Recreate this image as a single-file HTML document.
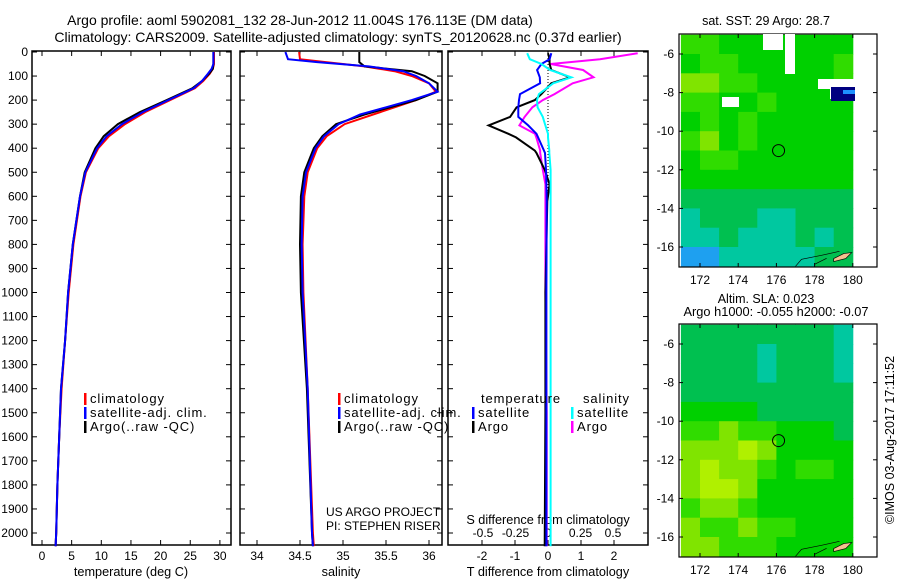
<!DOCTYPE html>
<html><head><meta charset="utf-8"><style>
body{margin:0;background:#fff;width:900px;height:580px;overflow:hidden}
svg text{font-family:"Liberation Sans",sans-serif;font-size:12px;fill:#000}
svg text.lg{font-size:13px;letter-spacing:0.9px}
svg text.tt{font-size:14px}
</style></head><body>
<svg id="s" width="900" height="580">
<text class="tt" x="300" y="25" text-anchor="middle">Argo profile: aoml 5902081_132 28-Jun-2012 11.004S 176.113E (DM data)</text>
<text class="tt" x="338" y="42" text-anchor="middle">Climatology: CARS2009. Satellite-adjusted climatology: synTS_20120628.nc (0.37d earlier)</text>
<text x="766" y="25" text-anchor="middle" style="font-size:12.5px">sat. SST: 29 Argo: 28.7</text>
<text x="766" y="303" text-anchor="middle" style="font-size:12.5px">Altim. SLA: 0.023</text>
<text x="776" y="316" text-anchor="middle" style="font-size:12.8px">Argo h1000: -0.055 h2000: -0.07</text>
<text transform="translate(894,440) rotate(-90)" text-anchor="middle" style="font-size:12.5px">©IMOS 03-Aug-2017 17:11:52</text>
<g id="g"></g>
</svg>
<script>
// ---- data ----
const depthTicks=[0,100,200,300,400,500,600,700,800,900,1000,1100,1200,1300,1400,1500,1600,1700,1800,1900,2000];
const tempTicks=[0,5,10,15,20,25,30];
const salTicks=[34,34.5,35,35.5,36];
const tdiffTicks=[-2,-1,0,1,2];
const sdiffTicks=[-0.5,-0.25,0,0.25,0.5];
const tempDepth=[0,50,70,90,120,150,200,250,300,350,400,500,600,800,1000,1200,1400,1600,1800,2000,2055];
const tempArgo=[28.9,28.9,28.8,28.2,27,25.4,21,16.5,12.8,10.4,9,7.2,6.4,5.2,4.4,3.9,3.2,2.9,2.6,2.4,2.3];
const tempSat=[28.9,28.9,28.6,28.0,27.0,25.6,21.3,17.0,13.5,10.9,9.3,7.3,6.4,5.2,4.4,3.9,3.2,2.9,2.6,2.4,2.3];
const tempClim=[29.0,29.0,28.8,28.3,27.2,25.8,21.6,17.4,14.0,11.3,9.5,7.4,6.5,5.3,4.5,3.9,3.3,2.9,2.6,2.4,2.3];
const salDepth=[0,30,42,60,80,100,130,165,200,230,260,300,350,400,500,600,800,1000,1400,2000,2055];
const salArgo=[35.19,35.19,35.19,35.25,35.8,35.95,36.1,36.1,35.85,35.55,35.25,34.92,34.76,34.66,34.55,34.51,34.5,34.51,34.58,34.64,34.65];
const salSat=[34.33,34.36,34.7,35.3,35.7,35.85,36.0,36.1,35.8,35.5,35.2,34.95,34.78,34.68,34.57,34.53,34.52,34.53,34.59,34.64,34.65];
const salClim=[34.49,34.5,34.8,35.25,35.6,35.8,36.0,36.08,35.85,35.6,35.35,35.02,34.81,34.7,34.59,34.55,34.53,34.54,34.59,34.65,34.66];
const dDepth=[5,30,50,75,105,130,175,200,230,270,305,340,355,410,420,490,550,620,1000,1500,2055];
const dTsat=[0.1,0.05,-0.2,-0.33,-0.25,-0.24,-0.85,-0.88,-0.9,-0.9,-0.6,-0.35,-0.3,-0.12,-0.09,-0.06,-0.05,-0.04,-0.05,-0.05,-0.05];
const dTargo=[0,0.05,0.05,0.1,0.67,0.1,-0.2,-0.4,-0.95,-1.15,-1.8,-1.2,-0.97,-0.4,-0.35,-0.1,0.05,-0.02,-0.08,-0.08,-0.1];
const dSsat=[-0.16,-0.14,-0.05,0.015,0.18,0.04,-0.07,-0.085,-0.08,-0.04,-0.02,0.0,0.0,0.01,0.01,0.02,0.02,0.02,0.02,0.02,0.02];
const dSargo=[0.69,0.4,0.02,0.27,0.35,0.19,0.05,-0.04,-0.12,-0.18,-0.22,-0.1,-0.09,-0.06,-0.06,-0.04,-0.02,-0.02,-0.02,-0.01,-0.01];
const mapLonTicks=[172,174,176,178,180];
const mapLatTicks=[-6,-8,-10,-12,-14,-16];
const sstGrid=[
[4,4,3,3,3,3,3,3,3],[3,4,4,3,3,3,3,3,4],[5,5,4,4,3,3,3,3,4],[4,4,3,3,4,3,3,3,3],
[3,4,3,4,3,3,3,3,3],[4,5,3,4,3,3,3,3,3],[3,4,4,3,3,3,3,3,3],[3,3,3,3,3,3,3,3,3],
[2,2,2,2,2,2,2,2,2],[1,2,2,2,1,1,2,2,2],[1,1,2,1,1,1,2,1,2],[0,0,1,1,1,1,1,2,2]];
const slaGrid=[
[2,2,2,2,2,2,2,2,1],[2,2,2,2,1,2,2,2,1],[2,2,2,2,1,2,2,2,1],[2,2,2,2,2,2,2,2,2],
[3,3,3,3,2,2,2,2,2],[4,4,5,4,4,3,3,3,2],[5,5,5,6,5,3,3,3,3],[5,6,5,5,4,3,4,4,3],
[5,6,6,5,3,3,3,3,3],[4,5,5,4,3,3,3,3,3],[5,4,4,5,4,4,3,3,3],[5,5,4,4,4,3,3,3,3]];
const palette=['#1ea0f0','#00c8a0','#00c050','#00d000','#30dc00','#80e400','#b0f000'];
const argoLon=176.113, argoLat=-11.004;
// ---- drawing ----
const NS='http://www.w3.org/2000/svg';const G=document.getElementById('g');
function el(t,a,p){const e=document.createElementNS(NS,t);for(const k in a)e.setAttribute(k,a[k]);(p||G).appendChild(e);return e;}
const yD=d=>52+d*0.2405;
const xT=v=>42+v*5.93, xS=v=>257+(v-34)*86, xTd=v=>548+v*33, xSd=v=>548+v*130;
function frame(x0,x1,name){const r=el('rect',{x:x0,y:51,width:x1-x0,height:494,fill:'none',stroke:'#000','stroke-width':1.5});
}
frame(32,231,'temperature-panel');frame(240,442,'salinity-panel');frame(448,648,'difference-panel');
depthTicks.forEach(d=>{const y=yD(d);
 const t=el('text',{x:28,y:y+4,'text-anchor':'end'});t.textContent=d;
 
 [[32,37],[226,231],[240,245],[437,442],[448,453],[643,648]].forEach(p=>el('line',{x1:p[0],x2:p[1],y1:y,y2:y,stroke:'#000'}));});
function xticks(ticks,f,ly,cls){ticks.forEach(v=>{const x=f(v);el('line',{x1:x,x2:x,y1:51,y2:56,stroke:'#000'});el('line',{x1:x,x2:x,y1:540,y2:545,stroke:'#000'});
 const t=el('text',{x:x,y:ly,'text-anchor':'middle'});t.textContent=v;});}
xticks(tempTicks,xT,560,'temperature-tick-label');xticks(salTicks,xS,560,'salinity-tick-label');xticks(tdiffTicks,xTd,560,'tdiff-tick-label');
sdiffTicks.forEach(v=>{const t=el('text',{x:xSd(v),y:537,'text-anchor':'middle'});t.textContent=v===0?'0':v.toString();
 });
[['temperature (deg C)',131,576,'temperature-axis-title'],['salinity',341,576,'salinity-axis-title'],['T difference from climatology',548,576,'tdiff-axis-title'],['S difference from climatology',548,524,'sdiff-axis-title']].forEach(a=>{
 const t=el('text',{x:a[1],y:a[2],'text-anchor':'middle',style:'font-size:12.7px'});t.textContent=a[0];});
el('line',{x1:548,x2:548,y1:52,y2:200,stroke:'#000','stroke-dasharray':'1,2'});
function line(xs,ds,fx,col,name){const p=el('polyline',{points:xs.map((v,i)=>fx(v).toFixed(1)+','+yD(ds[i]).toFixed(1)).join(' '),fill:'none',stroke:col,'stroke-width':2});
 }
line(tempClim,tempDepth,xT,'#f00','temp-climatology-line');line(tempArgo,tempDepth,xT,'#000','temp-argo-line');line(tempSat,tempDepth,xT,'#00f','temp-satellite-line');
line(salClim,salDepth,xS,'#f00','sal-climatology-line');line(salArgo,salDepth,xS,'#000','sal-argo-line');line(salSat,salDepth,xS,'#00f','sal-satellite-line');
line(dSargo,dDepth,xSd,'#f0f','sdiff-argo-line');line(dTargo,dDepth,xTd,'#000','tdiff-argo-line');line(dTsat,dDepth,xTd,'#00f','tdiff-satellite-line');line(dSsat,dDepth,xSd,'#0ff','sdiff-satellite-line');
function legend(x,y,items,name){items.forEach((it,i)=>{el('rect',{x:x,y:y+i*14-10,width:2.5,height:12,fill:it[1]});
 const t=el('text',{x:x+6,y:y+i*14,'class':'lg'});t.textContent=it[0];});}
legend(84,403,[['climatology','#f00'],['satellite-adj. clim.','#00f'],['Argo(..raw -QC)','#000']],'legend-entry');
legend(338,403,[['climatology','#f00'],['satellite-adj. clim.','#00f'],['Argo(..raw -QC)','#000']],'legend-entry');
legend(472,417,[['satellite','#00f'],['Argo','#000']],'legend-entry');legend(571,417,[['satellite','#0ff'],['Argo','#f0f']],'legend-entry');
[['temperature',481,403],['salinity',583,403]].forEach(a=>{const t=el('text',{x:a[1],y:a[2],'class':'lg'});t.textContent=a[0];
 });
[['US ARGO PROJECT',326,516],['PI: STEPHEN RISER',326,530]].forEach(a=>{const t=el('text',{x:a[1],y:a[2]});t.textContent=a[0];
 });
// maps
function map(top,grid,name){const lx=v=>700+(v-172)*19.1, ly=v=>top+20+(-6-v)*19.3;
 grid.forEach((row,r)=>row.forEach((c,k)=>{const x=lx(171+k),y=ly(-5-r);const cell=el('rect',{x:x.toFixed(1),y:y.toFixed(1),width:19.6,height:19.8,fill:palette[c]});
  }));
 el('rect',{x:lx(180.1),y:top,width:877-lx(180.1),height:233,fill:'#fff'});
 el('path',{d:`M${lx(179)},${ly(-16.6)} l10,-5 l8,-1 l-6,6 l-12,3z`,fill:'#f5c090',stroke:'#000','stroke-width':0.7});
 el('path',{d:`M${lx(177)},${ly(-17)} l6,-7 l20,-4 l18,-4 M${lx(178)},${ly(-16.9)} l12,-6`,fill:'none',stroke:'#000','stroke-width':0.7});
 el('circle',{cx:lx(argoLon),cy:ly(argoLat),r:6,fill:'none',stroke:'#000'});
 const f=el('rect',{x:679,y:top,width:198,height:233,fill:'none',stroke:'#000','stroke-width':1.2});
 mapLonTicks.forEach(v=>{const x=lx(v);el('line',{x1:x,x2:x,y1:top,y2:top+4,stroke:'#000'});el('line',{x1:x,x2:x,y1:top+229,y2:top+233,stroke:'#000'});
  const t=el('text',{x:x,y:top+250,'text-anchor':'middle'});t.textContent=v;});
 mapLatTicks.forEach(v=>{const y=ly(v);el('line',{x1:679,x2:683,y1:y,y2:y,stroke:'#000'});el('line',{x1:873,x2:877,y1:y,y2:y,stroke:'#000'});
  const t=el('text',{x:674,y:y+4,'text-anchor':'end'});t.textContent=v;});}
map(34,sstGrid,'sst-map');map(324,slaGrid,'sla-map');
// SST white gaps and anomaly
[[763,34,20,16],[785,34,10,40],[722,97,17,10],[818,79,38,10],[830,79,25,20]].forEach(r=>el('rect',{x:r[0],y:r[1],width:r[2],height:r[3],fill:'#fff'}));
el('rect',{x:831,y:87,width:24,height:14,fill:'#000080'});el('rect',{x:843,y:90,width:12,height:4,fill:'#1e90ff'});
</script>
</body></html>
